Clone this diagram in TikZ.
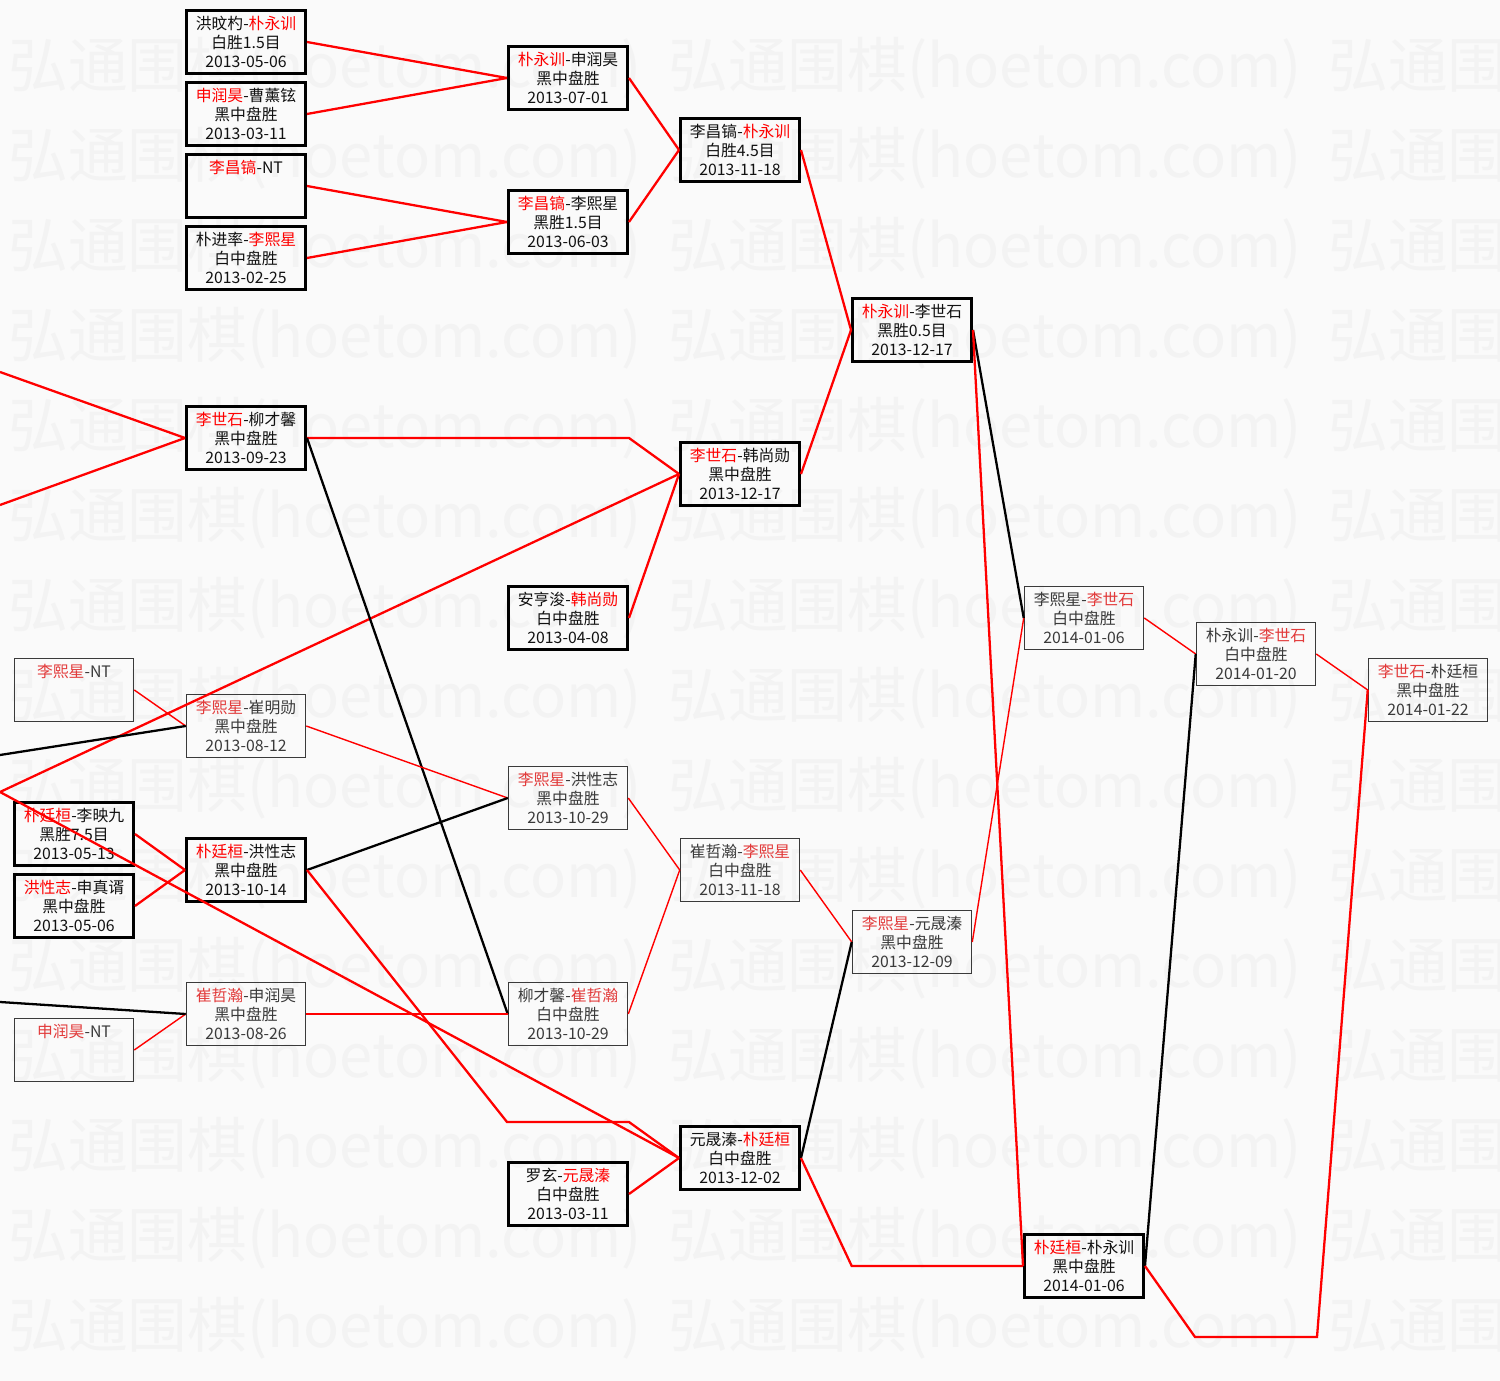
\documentclass[tikz,border=0pt]{standalone}
\usepackage{fontspec}
\setmainfont{Noto Sans CJK SC}
\usetikzlibrary{calc}
\definecolor{Win}{HTML}{FF0000}
\definecolor{WinSoft}{HTML}{E23A3A}
\definecolor{Ink}{HTML}{111111}
\definecolor{InkSoft}{HTML}{3A3A3A}
\definecolor{Paper}{HTML}{FAFAFA}
\definecolor{Mark}{HTML}{F3F3F3}
\newcommand{\wn}[1]{\textcolor{Win}{#1}}

\begin{document}
\begin{tikzpicture}[x=0.02cm, y=-0.02cm, every node/.style={font=\fontsize{9}{10.8}\selectfont}]
  \tikzstyle{game}=[draw=black, line width=1.7pt, minimum width=2.38cm, minimum height=1.26cm, inner sep=0pt, align=center, text=Ink]
  \tikzstyle{gamelite}=[game, draw=InkSoft, line width=0.9pt, text=InkSoft, execute at begin node=\colorlet{Win}{WinSoft}]
  \tikzstyle{wmark}=[anchor=west, inner sep=0pt, text=Mark, font=\fontsize{34}{34}\selectfont]
  \tikzstyle{won}=[draw=Win, line width=1.3pt]
  \tikzstyle{lost}=[draw=black, line width=1.3pt]
  \tikzstyle{wonlite}=[draw=Win, line width=0.8pt]

  \useasboundingbox (0,0) rectangle (1500,1381);
  \begin{scope}
    \clip (0,0) rectangle (1500,1381);
    \fill[Paper] (0,0) rectangle (1500,1381);
    \foreach \r in {0,...,14}
      \foreach \c in {8,668,1328}
        \node[wmark] (w\r-\c) at (\c,68+90*\r) {弘通围棋(hoetom.com)};
  \end{scope}

  \node[gamelite] (z1) at (74,690) {\wn{李熙星}-NT\\~\\~};
  \node[game] (z2) at (74,834) {\wn{朴廷桓}-李映九\\黑胜7.5目\\2013-05-13};
  \node[game] (z3) at (74,906) {\wn{洪性志}-申真谞\\黑中盘胜\\2013-05-06};
  \node[gamelite] (z4) at (74,1050) {\wn{申润昊}-NT\\~\\~};

  \node[game] (a1) at (246,42) {洪旼杓-\wn{朴永训}\\白胜1.5目\\2013-05-06};
  \node[game] (a2) at (246,114) {\wn{申润昊}-曹薰铉\\黑中盘胜\\2013-03-11};
  \node[game] (a3) at (246,186) {\wn{李昌镐}-NT\\~\\~};
  \node[game] (a4) at (246,258) {朴进率-\wn{李熙星}\\白中盘胜\\2013-02-25};
  \node[game] (a5) at (246,438) {\wn{李世石}-柳才馨\\黑中盘胜\\2013-09-23};
  \node[gamelite] (a6) at (246,726) {\wn{李熙星}-崔明勋\\黑中盘胜\\2013-08-12};
  \node[game] (a7) at (246,870) {\wn{朴廷桓}-洪性志\\黑中盘胜\\2013-10-14};
  \node[gamelite] (a8) at (246,1014) {\wn{崔哲瀚}-申润昊\\黑中盘胜\\2013-08-26};

  \node[game] (b1) at (568,78) {\wn{朴永训}-申润昊\\黑中盘胜\\2013-07-01};
  \node[game] (b2) at (568,222) {\wn{李昌镐}-李熙星\\黑胜1.5目\\2013-06-03};
  \node[game] (b3) at (568,618) {安亨浚-\wn{韩尚勋}\\白中盘胜\\2013-04-08};
  \node[gamelite] (b4) at (568,798) {\wn{李熙星}-洪性志\\黑中盘胜\\2013-10-29};
  \node[gamelite] (b5) at (568,1014) {柳才馨-\wn{崔哲瀚}\\白中盘胜\\2013-10-29};
  \node[game] (b6) at (568,1194) {罗玄-\wn{元晟溱}\\白中盘胜\\2013-03-11};

  \node[game] (c1) at (740,150) {李昌镐-\wn{朴永训}\\白胜4.5目\\2013-11-18};
  \node[game] (c2) at (740,474) {\wn{李世石}-韩尚勋\\黑中盘胜\\2013-12-17};
  \node[gamelite] (c3) at (740,870) {崔哲瀚-\wn{李熙星}\\白中盘胜\\2013-11-18};
  \node[game] (c4) at (740,1158) {元晟溱-\wn{朴廷桓}\\白中盘胜\\2013-12-02};

  \node[game] (d1) at (912,330) {\wn{朴永训}-李世石\\黑胜0.5目\\2013-12-17};
  \node[gamelite] (d2) at (912,942) {\wn{李熙星}-元晟溱\\黑中盘胜\\2013-12-09};

  \node[gamelite] (e1) at (1084,618) {李熙星-\wn{李世石}\\白中盘胜\\2014-01-06};
  \node[game] (e2) at (1084,1266) {\wn{朴廷桓}-朴永训\\黑中盘胜\\2014-01-06};

  \node[gamelite] (f1) at (1256,654) {朴永训-\wn{李世石}\\白中盘胜\\2014-01-20};
  \node[gamelite] (g1) at (1428,690) {\wn{李世石}-朴廷桓\\黑中盘胜\\2014-01-22};

  \coordinate (o1) at (0,372);
  \coordinate (o2) at (0,505);
  \coordinate (o3) at (0,755);
  \coordinate (o4) at (0,792);
  \coordinate (o5) at (0,1002);
  \coordinate (k1) at (507,1122);
  \coordinate (k2) at (629,1122);
  \coordinate (k3) at (1195,1337);
  \coordinate (k4) at (1317,1337);

  \draw[won] (a1.east) -- (b1.west);
  \draw[won] (a2.east) -- (b1.west);
  \draw[won] (a3.east) -- (b2.west);
  \draw[won] (a4.east) -- (b2.west);
  \draw[won] (b1.east) -- (c1.west);
  \draw[won] (b2.east) -- (c1.west);
  \draw[won] (c1.east) -- (d1.west);
  \draw[won] (c2.east) -- (d1.west);
  \draw[won] (o1) -- (a5.west);
  \draw[won] (o2) -- (a5.west);
  \draw[won] (a5.east) -- (b3.east |- a5.east) -- (c2.west);
  \draw[won] (o4) -- (c2.west);
  \draw[won] (b3.east) -- (c2.west);
  \draw[lost] (a5.east) -- (b5.west);
  \draw[wonlite] (z1.east) -- (a6.west);
  \draw[lost] (o3) -- (a6.west);
  \draw[wonlite] (a6.east) -- (b4.west);
  \draw[won] (z2.east) -- (a7.west);
  \draw[won] (z3.east) -- (a7.west);
  \draw[lost] (a7.east) -- (b4.west);
  \draw[won] (a7.east) -- (k1) -- (k2) -- (c4.west);
  \draw[won] (o4) -- (c4.west);
  \draw[wonlite] (z4.east) -- (a8.west);
  \draw[lost] (o5) -- (a8.west);
  \draw[wonlite] (a8.east) -- (b5.west);
  \draw[wonlite] (b4.east) -- (c3.west);
  \draw[wonlite] (b5.east) -- (c3.west);
  \draw[won] (b6.east) -- (c4.west);
  \draw[wonlite] (c3.east) -- (d2.west);
  \draw[lost] (c4.east) -- (d2.west);
  \draw[won] (c4.east) -- (d2.west |- e2.west) -- (e2.west);
  \draw[lost] (d1.east) -- (e1.west);
  \draw[won] (d1.east) -- (e2.west);
  \draw[wonlite] (d2.east) -- (e1.west);
  \draw[wonlite] (e1.east) -- (f1.west);
  \draw[lost] (e2.east) -- (f1.west);
  \draw[won] (e2.east) -- (k3) -- (k4) -- (g1.west);
  \draw[wonlite] (f1.east) -- (g1.west);
\end{tikzpicture}
\end{document}
